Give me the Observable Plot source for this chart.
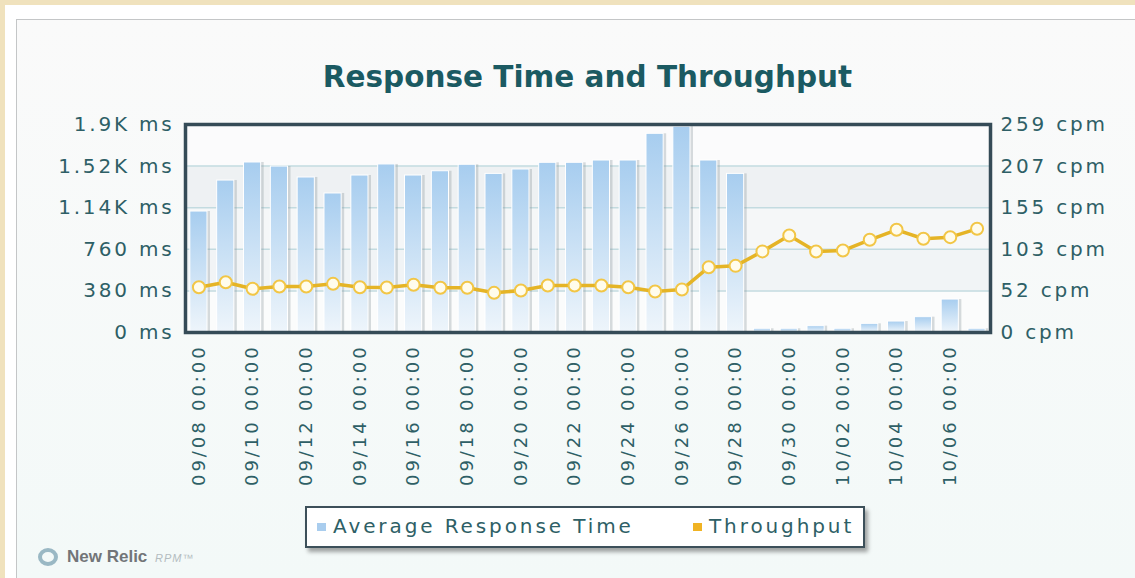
<!DOCTYPE html>
<html>
<head>
<meta charset="utf-8">
<script src="https://cdn.jsdelivr.net/npm/d3@7"></script>
<script src="https://cdn.jsdelivr.net/npm/@observablehq/plot@0.6"></script>
<style>
  html, body { margin: 0; padding: 0; }
  body { width: 1135px; height: 578px; background: #f0e2bd; overflow: hidden; position: relative; font-family: "DejaVu Sans", Verdana, sans-serif; }
  #white { position: absolute; left: 5px; top: 5px; right: 0; bottom: 0; background: #ffffff; }
  #panel { position: absolute; left: 16px; top: 19px; right: 0; bottom: 0; border-left: 1.5px solid #c4c6c7; border-top: 1.5px solid #c4c6c7; background: linear-gradient(#fafafa, #f3f9f8); }
  #chart { position: absolute; left: 0; top: 0; }
  #title { position: absolute; left: 185px; width: 805px; top: 60px; text-align: center; font-family: "DejaVu Sans", sans-serif; font-weight: bold; font-size: 29.5px; color: #1b5a62; }
  #legend { position: absolute; left: 305px; top: 506px; width: 556px; height: 38px; background: #ffffff; border: 2px solid #3d505a; box-shadow: 3px 4px 4px rgba(0,0,0,0.35); font-size: 20px; letter-spacing: 2.9px; color: #2e5f66; }
  .lg-item { position: absolute; top: 6px; white-space: nowrap; }
  .lg-sw { display: inline-block; width: 9px; height: 8px; margin-right: 7px; vertical-align: 2px; }
  #logo { position: absolute; left: 38px; top: 547px; font-family: "Liberation Sans", Arial, sans-serif; }
  #ring { position: absolute; left: 0; top: 1px; width: 12px; height: 10px; border: 4px solid #9ab8c4; border-radius: 50%; }
  #logo-name { position: absolute; left: 29px; top: 0; font-weight: bold; font-size: 17px; color: #727578; white-space: nowrap; }
  #logo-rpm { position: absolute; left: 117px; top: 5px; font-style: italic; font-size: 11px; color: #b3bcc0; letter-spacing: 1px; white-space: nowrap; }
  g[aria-label="x-axis tick label"] text { letter-spacing: 2.9px; }
  g[aria-label="y-axis tick label"] text { letter-spacing: 2.8px; }
</style>
</head>
<body>
<div id="white"></div>
<div id="panel"></div>
<div id="chart"></div>
<div id="title"></div>
<div id="legend"></div>
<div id="logo"><div id="ring"></div><div id="logo-name">New Relic</div><div id="logo-rpm">RPM&#8482;</div></div>
<script>
const chartTitle = "Response Time and Throughput";
const dates = ["09/08","09/09","09/10","09/11","09/12","09/13","09/14","09/15","09/16","09/17",
               "09/18","09/19","09/20","09/21","09/22","09/23","09/24","09/25","09/26","09/27",
               "09/28","09/29","09/30","10/01","10/02","10/03","10/04","10/05","10/06","10/07"];
const responseMs = [1105,1388,1553,1516,1416,1270,1434,1535,1434,1473,
                    1532,1449,1489,1550,1550,1571,1571,1815,1880,1571,
                    1449,34,34,58,34,79,100,140,301,34];
const throughputCpm = [56.4,62.6,54.4,57.3,57.3,60.6,56.4,56.0,59.4,55.7,
                       55.7,49.4,52.3,58.5,58.5,58.5,56.4,51.1,53.5,81.3,
                       83.0,101.0,120.8,100.9,102.1,115.4,127.9,116.7,118.7,129.1];
const msTicks = [0,380,760,1140,1520,1900];
const msLabels = ["0 ms","380 ms","760 ms","1.14K ms","1.52K ms","1.9K ms"];
const cpmTicks = [0,52,103,155,207,259];
const cpmLabels = ["0 cpm","52 cpm","103 cpm","155 cpm","207 cpm","259 cpm"];
const xTickDates = dates.filter((d, i) => i % 2 === 0);
const xTickSuffix = " 00:00";
const legendLabels = ["Average Response Time", "Throughput"];

const msMax = msTicks[msTicks.length - 1];
const cpmMax = cpmTicks[cpmTicks.length - 1];
const toMs = c => c * msMax / cpmMax;

const rows = dates.map((d, i) => ({date: d, ms: responseMs[i], cpm: throughputCpm[i]}));
const bands = msTicks.slice(0, -1).map((v, i) => ({y1: v, y2: msTicks[i + 1], i}));
const bandFills = ["#fbfcfc", "#f1f4f6", "#f5f7f8", "#eef1f3", "#fbfbfc"];
const msLabelMap = new Map(msTicks.map((t, i) => [t, msLabels[i]]));
const cpmPos = cpmTicks.map(toMs);
const cpmLabelMap = new Map(cpmPos.map((p, i) => [p, cpmLabels[i]]));

const textColor = "#2e5f66";

const plot = Plot.plot({
  width: 1135,
  height: 500,
  marginLeft: 185,
  marginRight: 145,
  marginTop: 124,
  marginBottom: 168,
  style: {fontFamily: "DejaVu Sans, Verdana, sans-serif", fontSize: "20px", color: textColor, background: "transparent", overflow: "visible"},
  x: {type: "band", domain: dates, paddingInner: 0.36, paddingOuter: 0.18, round: false, axis: null},
  y: {domain: [0, msMax], axis: null},
  marks: [
    Plot.rect(bands, {y1: "y1", y2: "y2", fill: d => bandFills[d.i]}),
    Plot.ruleY(msTicks.slice(1, -1), {stroke: "#c3dbe0", strokeWidth: 1.5}),
    Plot.barY(rows, {x: "date", y: "ms", fill: "#7f8b92", fillOpacity: 0.3, dx: 3}),
    Plot.barY(rows, {x: "date", y: "ms", fill: "url(#barGrad)", stroke: "#ffffff", strokeWidth: 1}),
    Plot.line(rows, {x: "date", y: d => toMs(d.cpm), stroke: "#e5b426", strokeWidth: 3.5, curve: "linear"}),
    Plot.dot(rows, {x: "date", y: d => toMs(d.cpm), r: 6, fill: "#fffcec", stroke: "#f2c646", strokeWidth: 2}),
    Plot.frame({stroke: "#354b57", strokeWidth: 3.5}),
    Plot.axisY({anchor: "left", ticks: msTicks, tickFormat: d => msLabelMap.get(d), tickSize: 0, tickPadding: 11, label: null, fontSize: 20}),
    Plot.axisY({anchor: "right", ticks: cpmPos, tickFormat: d => cpmLabelMap.get(d), tickSize: 0, tickPadding: 10, label: null, fontSize: 20}),
    Plot.axisX({ticks: xTickDates, tickFormat: d => d + xTickSuffix, tickRotate: -90, tickSize: 0, tickPadding: 12, label: null, fontSize: 18})
  ]
});

// bar gradient (top light blue to near-white bottom)
const svgSel = d3.select(plot);
const defs = svgSel.insert("defs", ":first-child");
const grad = defs.append("linearGradient").attr("id", "barGrad").attr("x1", 0).attr("y1", 0).attr("x2", 0).attr("y2", 1);
grad.append("stop").attr("offset", "0%").attr("stop-color", "#a7cdef");
grad.append("stop").attr("offset", "100%").attr("stop-color", "#eef5fb");

document.getElementById("chart").appendChild(plot);
document.getElementById("title").textContent = chartTitle;

// legend
const legend = document.getElementById("legend");
const legendColors = ["#a9cdee", "#f0b323"];
const legendLefts = [10, 386];
legendLabels.forEach((lab, i) => {
  const item = document.createElement("div");
  item.className = "lg-item";
  item.style.left = legendLefts[i] + "px";
  const sw = document.createElement("span");
  sw.className = "lg-sw";
  sw.style.background = legendColors[i];
  item.appendChild(sw);
  item.appendChild(document.createTextNode(lab));
  legend.appendChild(item);
});
</script>
</body>
</html>
